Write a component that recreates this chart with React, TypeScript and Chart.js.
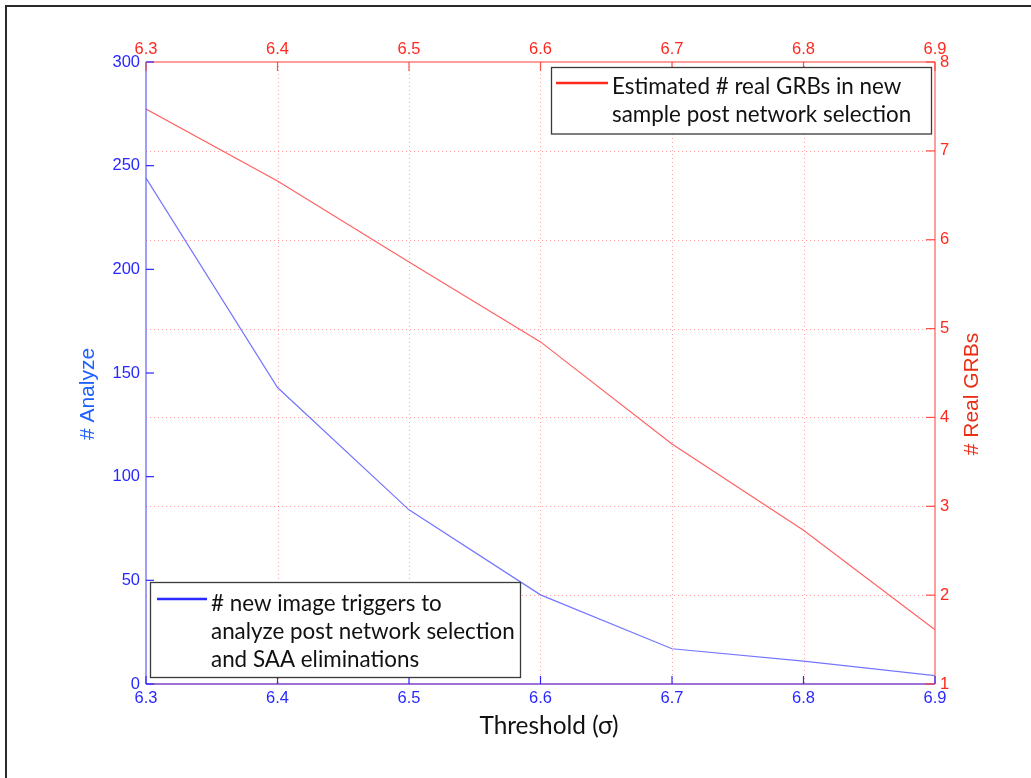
import React, { useEffect, useRef } from "react";
import { Chart, registerables } from "chart.js";

Chart.register(...registerables);

// ---- data ----
const thresholds = [6.3, 6.4, 6.5, 6.6, 6.7, 6.8, 6.9];
const analyzeCounts = [244, 143, 84, 43, 17, 11, 4];
const realGRBs = [7.47, 6.66, 5.75, 4.85, 3.7, 2.73, 1.61];

const xTitle = "Threshold (σ)";
const leftTitle = "# Analyze";
const rightTitle = "# Real GRBs";
const blueLegendLines = [
  "# new image triggers to",
  "analyze post network selection",
  "and SAA eliminations",
];
const redLegendLines = ["Estimated # real GRBs in new", "sample post network selection"];

// ---- styles ----
const BLUE = "rgb(40,40,255)";
const RED = "rgb(255,40,30)";
const BLUE_LINE = "rgba(110,110,255,0.95)";
const RED_LINE = "rgba(255,90,90,0.95)";
const AXIS_FONT = "'Liberation Sans', Arial, sans-serif";
const TEXT_FONT = "Lato, 'Open Sans', sans-serif";

function seg(ctx: CanvasRenderingContext2D, x0: number, y0: number, x1: number, y1: number) {
  ctx.beginPath();
  ctx.moveTo(x0, y0);
  ctx.lineTo(x1, y1);
  ctx.stroke();
}

function drawLegend(
  ctx: CanvasRenderingContext2D,
  b: { x: number; y: number; w: number; h: number; ly: number; lx0: number; lx1: number; tx: number; by: number },
  color: string,
  lines: string[]
) {
  ctx.save();
  ctx.fillStyle = "#fff";
  ctx.fillRect(b.x, b.y, b.w, b.h);
  ctx.strokeStyle = "#3a3a3a";
  ctx.lineWidth = 1.3;
  ctx.setLineDash([]);
  ctx.strokeRect(b.x, b.y, b.w, b.h);
  ctx.strokeStyle = color;
  ctx.lineWidth = 2.5;
  seg(ctx, b.lx0, b.ly, b.lx1, b.ly);
  ctx.fillStyle = "#111";
  ctx.font = `22.4px ${TEXT_FONT}`;
  ctx.textAlign = "left";
  ctx.textBaseline = "alphabetic";
  lines.forEach((s, i) => ctx.fillText(s, b.tx, b.by + i * 28));
  ctx.restore();
}

const decor = {
  id: "decor",
  beforeDatasetsDraw(chart: any) {
    const { ctx, chartArea: a, scales } = chart;
    ctx.save();
    ctx.strokeStyle = "rgba(255,80,80,0.55)";
    ctx.lineWidth = 1;
    ctx.setLineDash([1, 3]);
    scales.x2.ticks.forEach((t: any) => {
      const px = Math.round(scales.x2.getPixelForValue(t.value)) + 0.5;
      if (px <= a.left + 2 || px >= a.right - 2) return;
      seg(ctx, px, a.top, px, a.bottom);
    });
    scales.y2.ticks.forEach((t: any) => {
      const py = Math.round(scales.y2.getPixelForValue(t.value)) + 0.5;
      if (py <= a.top + 2 || py >= a.bottom - 2) return;
      seg(ctx, a.left, py, a.right, py);
    });
    ctx.restore();
  },
  afterDatasetsDraw(chart: any) {
    const { ctx, chartArea: a, scales } = chart;
    ctx.save();
    ctx.setLineDash([]);
    // axis borders
    ctx.lineWidth = 1.5;
    ctx.strokeStyle = "rgba(255,110,110,0.9)";
    seg(ctx, a.left, a.top, a.right, a.top);
    seg(ctx, a.right, a.top, a.right, a.bottom);
    seg(ctx, a.left, a.bottom, a.right, a.bottom);
    ctx.strokeStyle = "rgba(80,80,255,0.75)";
    seg(ctx, a.left, a.top, a.left, a.bottom);
    seg(ctx, a.left, a.bottom, a.right, a.bottom);
    // inward ticks
    ctx.lineWidth = 1.2;
    ctx.strokeStyle = BLUE;
    scales.y.ticks.forEach((t: any) => {
      const py = scales.y.getPixelForValue(t.value);
      seg(ctx, a.left, py, a.left + 8, py);
    });
    scales.x.ticks.forEach((t: any) => {
      const px = scales.x.getPixelForValue(t.value);
      seg(ctx, px, a.bottom, px, a.bottom - 8);
    });
    ctx.strokeStyle = "rgba(255,60,50,0.9)";
    scales.y2.ticks.forEach((t: any) => {
      const py = scales.y2.getPixelForValue(t.value);
      seg(ctx, a.right, py, a.right - 9, py);
    });
    scales.x2.ticks.forEach((t: any) => {
      const px = scales.x2.getPixelForValue(t.value);
      seg(ctx, px, a.top, px, a.top + 9);
    });
    ctx.restore();

    // legends
    drawLegend(
      ctx,
      { x: 551.5, y: 67.5, w: 380, h: 66.5, ly: 83, lx0: 556, lx1: 608, tx: 612, by: 94 },
      RED,
      redLegendLines
    );
    drawLegend(
      ctx,
      { x: 150.5, y: 582.5, w: 370, h: 95, ly: 599, lx0: 157, lx1: 207, tx: 211, by: 611 },
      BLUE,
      blueLegendLines
    );

    // axis titles
    ctx.save();
    ctx.font = `21px ${AXIS_FONT}`;
    ctx.textAlign = "center";
    ctx.textBaseline = "middle";
    ctx.fillStyle = "rgb(30,95,255)";
    ctx.save();
    ctx.translate(88, 394);
    ctx.rotate(-Math.PI / 2);
    ctx.fillText(leftTitle, 0, 0);
    ctx.restore();
    ctx.fillStyle = "rgb(235,45,20)";
    ctx.save();
    ctx.translate(972, 394);
    ctx.rotate(-Math.PI / 2);
    ctx.fillText(rightTitle, 0, 0);
    ctx.restore();
    ctx.fillStyle = "#111";
    ctx.font = `24.4px ${TEXT_FONT}`;
    ctx.textBaseline = "alphabetic";
    ctx.fillText(xTitle, 549, 734);
    ctx.restore();

    // outer frame
    ctx.save();
    ctx.strokeStyle = "#2a2a2a";
    ctx.lineWidth = 2;
    ctx.beginPath();
    ctx.moveTo(6, 778);
    ctx.lineTo(6, 6);
    ctx.lineTo(1031, 6);
    ctx.stroke();
    ctx.restore();
  },
};

const tickFont = { family: AXIS_FONT, size: 16.5 };
const fmt1 = (v: any) => Number(v).toFixed(1);

export default function App() {
  const ref = useRef<HTMLCanvasElement | null>(null);
  useEffect(() => {
    if (!ref.current) return;
    const chart = new Chart(ref.current, {
      type: "line",
      data: {
        datasets: [
          {
            label: blueLegendLines.join(" "),
            data: thresholds.map((x, i) => ({ x, y: analyzeCounts[i] })),
            borderColor: BLUE_LINE,
            borderWidth: 1.2,
            pointRadius: 0,
            tension: 0,
            xAxisID: "x",
            yAxisID: "y",
          },
          {
            label: redLegendLines.join(" "),
            data: thresholds.map((x, i) => ({ x, y: realGRBs[i] })),
            borderColor: RED_LINE,
            borderWidth: 1.2,
            pointRadius: 0,
            tension: 0,
            xAxisID: "x",
            yAxisID: "y2",
          },
        ],
      },
      options: {
        responsive: false,
        animation: false,
        layout: { padding: 0 },
        plugins: { legend: { display: false }, tooltip: { enabled: false } },
        scales: {
          x: {
            type: "linear",
            position: "bottom",
            min: 6.3,
            max: 6.9,
            ticks: { stepSize: 0.1, color: BLUE, font: tickFont, padding: 5, callback: fmt1, autoSkip: false, maxRotation: 0 },
            grid: { display: false, drawTicks: false },
            border: { display: false },
            afterFit: (s: any) => {
              s.height = 94;
            },
          },
          x2: {
            type: "linear",
            position: "top",
            min: 6.3,
            max: 6.9,
            ticks: { stepSize: 0.1, color: RED, font: tickFont, padding: 3, callback: fmt1, autoSkip: false, maxRotation: 0 },
            grid: { display: false, drawTicks: false },
            border: { display: false },
            afterFit: (s: any) => {
              s.height = 62;
            },
          },
          y: {
            type: "linear",
            position: "left",
            min: 0,
            max: 300,
            ticks: { stepSize: 50, color: BLUE, font: tickFont, padding: 6 },
            grid: { display: false, drawTicks: false },
            border: { display: false },
            afterFit: (s: any) => {
              s.width = 146;
            },
          },
          y2: {
            type: "linear",
            position: "right",
            min: 1,
            max: 8,
            ticks: { stepSize: 1, color: RED, font: tickFont, padding: 5 },
            grid: { display: false, drawTicks: false },
            border: { display: false },
            afterFit: (s: any) => {
              s.width = 96;
            },
          },
        },
      } as any,
      plugins: [decor],
    });
    return () => chart.destroy();
  }, []);
  return (
    <div style={{ position: "absolute", left: 0, top: 0, width: 1031, height: 778, background: "#fff" }}>
      <canvas ref={ref} width={1031} height={778} style={{ display: "block" }} />
    </div>
  );
}
